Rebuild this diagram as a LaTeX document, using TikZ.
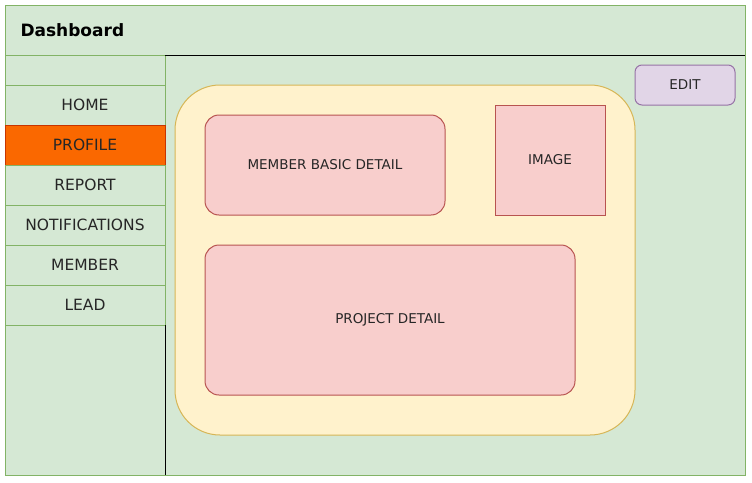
\documentclass[tikz,border=0pt]{standalone}
\usepackage{fontspec}
\setmainfont{DejaVu Sans}
\usepackage{tikz}
\usetikzlibrary{positioning}

\definecolor{paleGreen}{HTML}{D5E8D4}
\definecolor{lineGreen}{HTML}{82B366}
\definecolor{hotOrange}{HTML}{FA6800}
\definecolor{lineOrange}{HTML}{C73500}
\definecolor{paleYellow}{HTML}{FFF2CC}
\definecolor{lineYellow}{HTML}{D6B656}
\definecolor{palePink}{HTML}{F8CECC}
\definecolor{linePink}{HTML}{B85450}
\definecolor{paleLilac}{HTML}{E1D5E7}
\definecolor{lineLilac}{HTML}{9673A6}

\begin{document}
\begin{tikzpicture}[x=1pt,y=-1pt,line width=1pt,
		panel/.style={draw=lineGreen,fill=paleGreen,rectangle,inner sep=0pt,outer sep=0pt,anchor=north west},
		menu/.style={panel,minimum width=160,minimum height=40,font=\fontsize{15.5}{18}\selectfont,text=black!85},
		card/.style={draw=linePink,fill=palePink,rectangle,inner sep=0pt,outer sep=0pt,anchor=north west,font=\fontsize{13.5}{16}\selectfont,text=black!85}
	]
	\useasboundingbox (0,0) rectangle (752,482);
	\fill[white] (0,0) rectangle (752,482);
	
	\node [panel, minimum width=740, minimum height=470] (frame) at (5,5) {};
	\node [panel, minimum width=740, minimum height=50] (head) at (5,5) {};
	\node [right=15pt of head.west, inner sep=0pt, font=\bfseries\fontsize{17}{19}\selectfont] (title) {Dashboard};
	
	% side menu
	\node [panel, minimum width=160, minimum height=30] (blank) at (5,55) {};
	\node [menu] (home) at (5,85) {HOME};
	\node [menu, fill=hotOrange, draw=lineOrange] (profile) at (5,125) {PROFILE};
	\node [menu] (report) at (5,165) {REPORT};
	\node [menu] (notif) at (5,205) {NOTIFICATIONS};
	\node [menu] (member) at (5,245) {MEMBER};
	\node [menu] (lead) at (5,285) {LEAD};
	
	\draw [black] (head.south -| blank.east) -- (head.south east);
	\draw [black] (lead.south east) -- (lead.south east |- frame.south);
	
	% profile content
	\node [draw=lineYellow, fill=paleYellow, rounded corners=45pt, minimum width=460, minimum height=350, outer sep=0pt, anchor=north west] (holder) at (175,85) {};
	\node [card, rounded corners=14pt, minimum width=240, minimum height=100] (basic) at (205,115) {MEMBER BASIC DETAIL};
	\node [card, minimum width=110, minimum height=110] (image) at (495,105) {IMAGE};
	\node [card, rounded corners=14pt, minimum width=370, minimum height=150] (project) at (205,245) {PROJECT DETAIL};
	\node [draw=lineLilac, fill=paleLilac, rounded corners=7pt, minimum width=100, minimum height=40, outer sep=0pt, anchor=north west, font=\fontsize{13.5}{16}\selectfont, text=black!85] (edit) at (635,65) {EDIT};
\end{tikzpicture}
\end{document}
